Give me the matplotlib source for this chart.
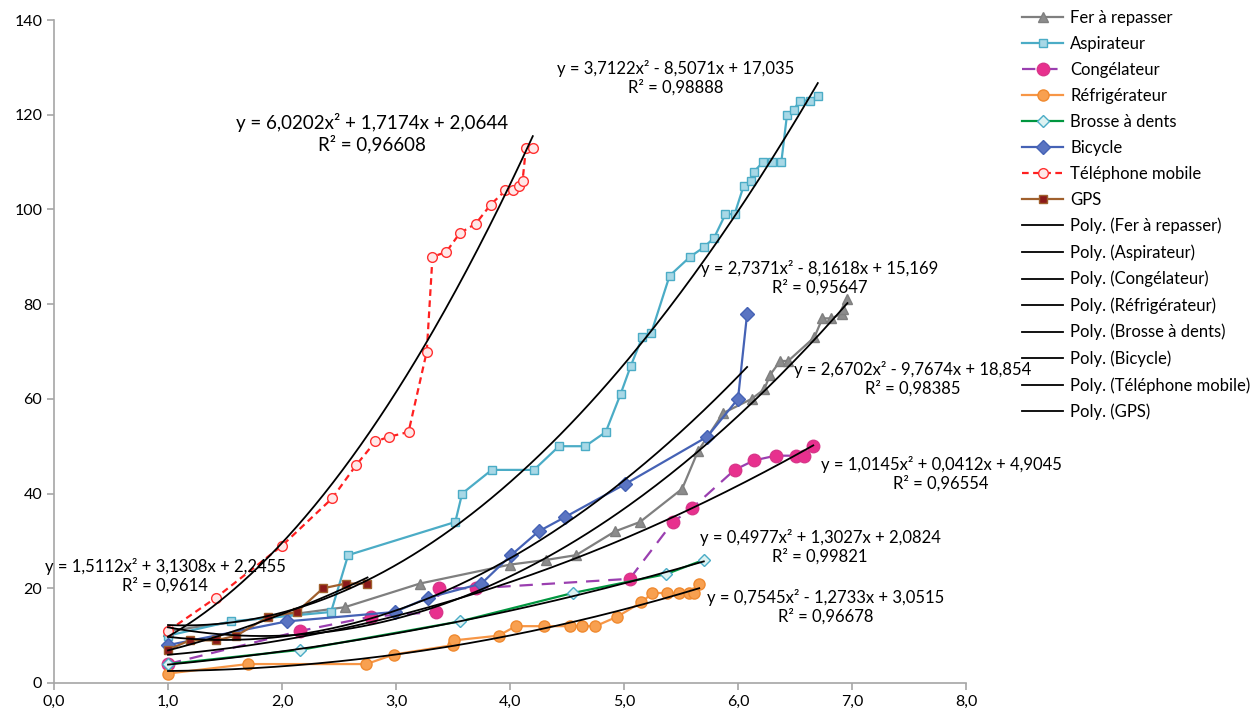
import numpy as np
import matplotlib
matplotlib.use("Agg")
from matplotlib import pyplot as plt

plt.rcParams['font.family'] = ['Lato', 'DejaVu Sans']

# data
fer_x = [1.0, 2.55, 3.21, 4.00, 4.32, 4.58, 4.92, 5.14, 5.51, 5.65, 5.87, 6.12, 6.23, 6.28, 6.37, 6.44, 6.67, 6.74, 6.82, 6.91, 6.92, 6.96]
fer_y = [11, 16, 21, 25, 26, 27, 32, 34, 41, 49, 57, 60, 62, 65, 68, 68, 73, 77, 77, 78, 79, 81]

asp_x = [1.0, 1.55, 2.43, 2.58, 3.52, 3.58, 3.84, 4.21, 4.43, 4.66, 4.84, 4.97, 5.06, 5.16, 5.24, 5.40,
         5.58, 5.70, 5.79, 5.89, 5.97, 6.05, 6.11, 6.14, 6.22, 6.30, 6.38, 6.43, 6.49, 6.54, 6.63, 6.70]
asp_y = [10, 13, 15, 27, 34, 40, 45, 45, 50, 50, 53, 61, 67, 73, 74, 86,
         90, 92, 94, 99, 99, 105, 106, 108, 110, 110, 110, 120, 121, 123, 123, 124]

cong_x = [1.0, 2.16, 2.78, 3.35, 3.38, 3.70, 5.05, 5.43, 5.60, 5.97, 6.14, 6.33, 6.51, 6.58, 6.66]
cong_y = [4, 11, 14, 15, 20, 20, 22, 34, 37, 45, 47, 48, 48, 48, 50]

refr_x = [1.0, 1.70, 2.74, 2.98, 3.50, 3.51, 3.90, 4.05, 4.30, 4.53, 4.63, 4.75, 4.94, 5.15, 5.25, 5.38, 5.48, 5.57, 5.61, 5.66]
refr_y = [2, 4, 4, 6, 8, 9, 10, 12, 12, 12, 12, 12, 14, 17, 19, 19, 19, 19, 19, 21]

brosse_x = [1.0, 2.16, 3.56, 4.55, 5.37, 5.70]
brosse_y = [4, 7, 13, 19, 23, 26]

bike_x = [1.0, 2.04, 2.99, 3.28, 3.75, 4.01, 4.25, 4.48, 5.01, 5.73, 6.00, 6.08]
bike_y = [8, 13, 15, 18, 21, 27, 32, 35, 42, 52, 60, 78]

tel_x = [1.0, 1.42, 2.0, 2.44, 2.65, 2.82, 2.94, 3.11, 3.27, 3.32, 3.44, 3.56, 3.70, 3.83, 3.96, 4.03, 4.08, 4.11, 4.14, 4.20]
tel_y = [11, 18, 29, 39, 46, 51, 52, 53, 70, 90, 91, 95, 97, 101, 104, 104, 105, 106, 113, 113]

gps_x = [1.0, 1.19, 1.42, 1.60, 1.88, 2.13, 2.36, 2.56, 2.75]
gps_y = [7, 9, 9, 10, 14, 15, 20, 21, 21]

names = ['Fer à repasser', 'Aspirateur', 'Congélateur', 'Réfrigérateur',
         'Brosse à dents', 'Bicycle', 'Téléphone mobile', 'GPS']

# polynomial trendline coefficients (a, b, c) and R² as printed on the chart
coefs = [(2.6702, -9.7674, 18.854), (3.7122, -8.5071, 17.035), (1.0145, 0.0412, 4.9045),
         (0.7545, -1.2733, 3.0515), (0.4977, 1.3027, 2.0824), (2.7371, -8.1618, 15.169),
         (6.0202, 1.7174, 2.0644), (1.5112, 3.1308, 2.2455)]
r2 = ['0,98385', '0,98888', '0,96554', '0,96678', '0,99821', '0,95647', '0,96608', '0,9614']

xs = [fer_x, asp_x, cong_x, refr_x, brosse_x, bike_x, tel_x, gps_x]
ys = [fer_y, asp_y, cong_y, refr_y, brosse_y, bike_y, tel_y, gps_y]

styles = [
    dict(color='#7F7F7F', ls='-', marker='^', ms=7, mfc='#8C8C8C', mec='#7F7F7F'),
    dict(color='#4BACC6', ls='-', marker='s', ms=6, mfc='#A8D8E6', mec='#4BACC6'),
    dict(color='#9A3FB0', ls=(0, (6, 4)), marker='o', ms=9, mfc='#E8308E', mec='#D8368A'),
    dict(color='#F79646', ls='-', marker='o', ms=8, mfc='#F8A050', mec='#F08A30'),
    dict(color='#00963F', ls='-', marker='D', ms=6, mfc='#DDF2F2', mec='#4BACC6'),
    dict(color='#4562B5', ls='-', marker='D', ms=7, mfc='#5A74C2', mec='#4562B5'),
    dict(color='#FF2020', ls=(0, (3, 2)), marker='o', ms=7, mfc='#FFE8E8', mec='#FF3030'),
    dict(color='#A0602D', ls='-', marker='s', ms=6, mfc='#8B1A1A', mec='#A0602D'),
]

fig = plt.figure(figsize=(12.6, 7.17), dpi=100)
ax = fig.add_axes([54/1260, 1 - 683/717, (966 - 54)/1260, (683 - 20)/717])

for x, y, name, st in zip(xs, ys, names, styles):
    ax.plot(x, y, lw=1.6, label=name, **st)

for x, name, (a, b, c) in zip(xs, names, coefs):
    t = np.linspace(min(x), max(x), 200)
    ax.plot(t, a*t**2 + b*t + c, color='black', lw=1.3, label='Poly. (' + name + ')')

ax.set_xlim(0, 8)
ax.set_ylim(0, 140)
ax.set_xticks(np.arange(0, 9, 1))
ax.set_xticklabels([('%.1f' % v).replace('.', ',') for v in range(9)])
ax.set_yticks(np.arange(0, 141, 20))
for s in ['top', 'right']:
    ax.spines[s].set_visible(False)
for s in ['left', 'bottom']:
    ax.spines[s].set_color('#A6A6A6')
    ax.spines[s].set_linewidth(1.2)
ax.tick_params(colors='#A6A6A6', labelcolor='black', labelsize=11.5, length=5, width=1.2)

# equation labels (centre pixel position of the two-line block)
lab_pos = [(913, 379), (676, 78), (941, 474), (826, 607), (820, 547), (820, 278), (372, 133), (165, 576)]
lab_size = [12, 12, 12, 12, 12, 12, 13.5, 12]

def fmt(v):
    return ('%g' % abs(v)).replace('.', ',')

for (a, b, c), r, (px, py), fs in zip(coefs, r2, lab_pos, lab_size):
    eq = 'y = %sx² %s %sx %s %s' % (fmt(a), '-' if b < 0 else '+', fmt(b), '-' if c < 0 else '+', fmt(c))
    fig.text(px/1260, 1 - py/717, eq + '\nR² = ' + r, ha='center', va='center',
             fontsize=fs, linespacing=1.2, multialignment='center')

fig.legend(loc='upper left', bbox_to_anchor=(1015/1260, 1 - 3/717), frameon=False,
           fontsize=12, labelspacing=0.6, handlelength=2.5, handletextpad=0.4,
           borderaxespad=0)

fig.savefig('out.png', dpi=100)
